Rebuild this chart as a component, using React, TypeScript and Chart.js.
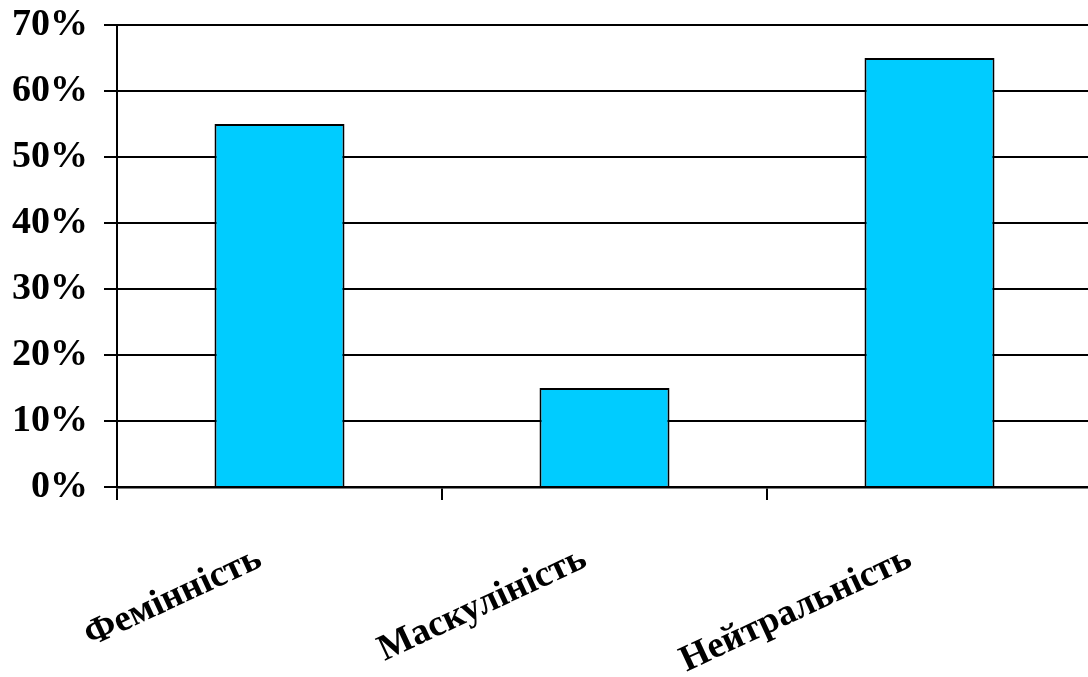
import React, { useEffect, useRef } from "react";
import { Chart, registerables } from "chart.js";

Chart.register(...registerables);

// Share of each trait, in percent
const categories = ["Фемінність", "Маскулініcть", "Нейтральність"];
const shares = [55, 15, 65];
const yTicks = [0, 10, 20, 30, 40, 50, 60, 70];

const FONT = "'Liberation Serif', 'Times New Roman', serif";

export default function App() {
  const canvasRef = useRef<HTMLCanvasElement | null>(null);

  useEffect(() => {
    const canvas = canvasRef.current;
    if (!canvas) return;
    const chart = new Chart(canvas, {
      type: "bar",
      data: {
        labels: categories,
        datasets: [
          {
            data: shares,
            backgroundColor: "#00CCFF",
            borderColor: "#000000",
            borderWidth: 2,
            categoryPercentage: 1,
            barPercentage: 0.4,
          },
        ],
      },
      options: {
        responsive: false,
        animation: false,
        devicePixelRatio: 1,
        layout: { padding: { top: 25, right: 4, left: 0, bottom: 0 } },
        plugins: {
          legend: { display: false },
          tooltip: { enabled: false },
        },
        scales: {
          x: {
            offset: true,
            grid: {
              offset: true,
              drawOnChartArea: false,
              drawTicks: true,
              tickLength: 13,
              color: "#000000",
              lineWidth: 2,
            },
            border: { display: true, color: "#000000", width: 2.5 },
            ticks: {
              color: "#000000",
              font: { family: FONT, size: 37, weight: "bold" },
              minRotation: 25,
              maxRotation: 25,
              padding: 37,
              labelOffset: -20,
              autoSkip: false,
            },
            afterFit: (scale: any) => {
              scale.height = 190;
            },
          },
          y: {
            min: 0,
            max: 70,
            afterBuildTicks: (scale: any) => {
              scale.ticks = yTicks.map((v) => ({ value: v }));
            },
            grid: {
              color: "#000000",
              lineWidth: 2,
              drawTicks: true,
              tickLength: 13,
            },
            border: { display: true, color: "#000000", width: 2 },
            ticks: {
              color: "#000000",
              font: { family: FONT, size: 38, weight: "bold" },
              padding: 16,
              callback: (v: any) => `${v}%`,
            },
            afterFit: (scale: any) => {
              scale.width = 117;
              scale.paddingTop = 0;
              scale.paddingBottom = 0;
            },
          },
        },
      },
    });
    return () => chart.destroy();
  }, []);

  return (
    <div
      style={{
        position: "fixed",
        left: 0,
        top: 0,
        width: 1088,
        height: 677,
        overflow: "hidden",
        background: "#ffffff",
      }}
    >
      <canvas ref={canvasRef} width={1096} height={677} style={{ display: "block" }} />
    </div>
  );
}
